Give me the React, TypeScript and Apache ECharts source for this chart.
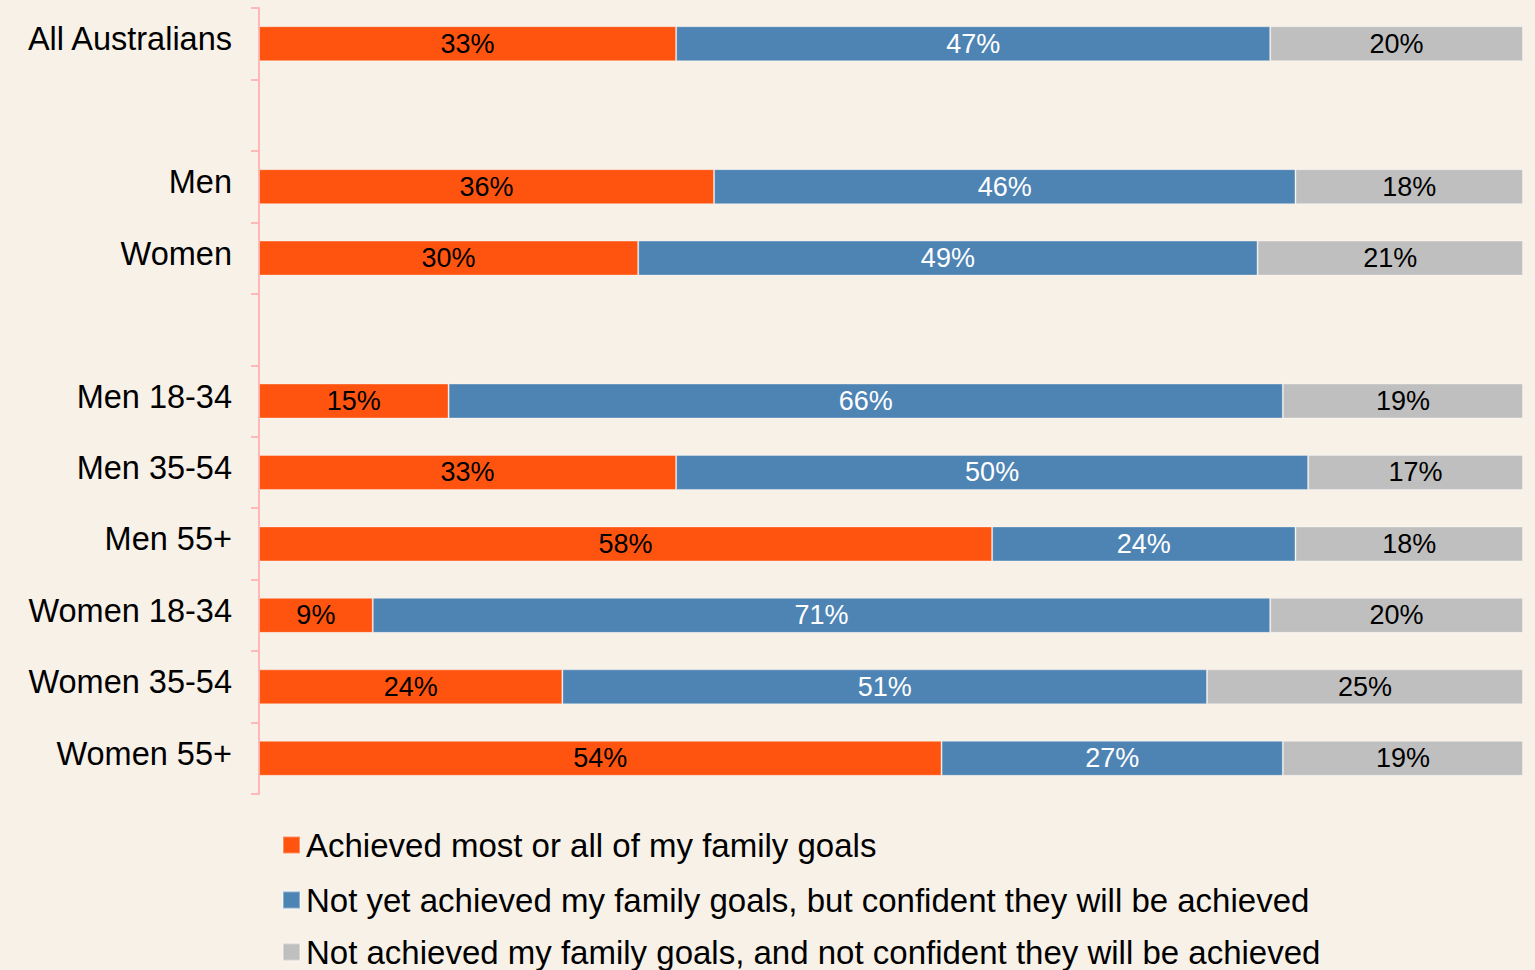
import React, { useEffect, useRef } from "react";
import * as echarts from "echarts";

const categories = [
  "All Australians",
  " ",
  "Men",
  "Women",
  "  ",
  "Men 18-34",
  "Men 35-54",
  "Men 55+",
  "Women 18-34",
  "Women 35-54",
  "Women 55+",
];

const achieved = [33, null, 36, 30, null, 15, 33, 58, 9, 24, 54];
const notYetConfident = [47, null, 46, 49, null, 66, 50, 24, 71, 51, 27];
const notConfident = [20, null, 18, 21, null, 19, 17, 18, 20, 25, 19];

const seriesNames = [
  "Achieved most or all of my family goals",
  "Not yet achieved my family goals, but confident they will be achieved",
  "Not achieved my family goals, and not confident they will be achieved",
];

const colors = ["#FF5410", "#4E84B4", "#BFBFBF"];
const labelColors = ["#000000", "#FFFFFF", "#000000"];
const legendTops = [818, 873, 925];

const FONT = "'Liberation Sans', Arial, sans-serif";

export default function App() {
  const ref = useRef<HTMLDivElement>(null);
  useEffect(() => {
    if (!ref.current) return;
    const chart = echarts.init(ref.current, null, { renderer: "svg" });
    const dataSets = [achieved, notYetConfident, notConfident];
    chart.setOption({
      animation: false,
      backgroundColor: "#F8F1E8",
      textStyle: { fontFamily: FONT },
      grid: { left: 259, right: 12, top: 8, bottom: 176 },
      xAxis: {
        type: "value",
        min: 0,
        max: 100,
        show: false,
      },
      yAxis: {
        type: "category",
        inverse: true,
        data: categories,
        axisLine: { show: true, lineStyle: { color: "#FFB8B8", width: 2 } },
        axisTick: { show: true, length: 8, lineStyle: { color: "#FFB8B8", width: 2 } },
        axisLabel: {
          color: "#000",
          fontSize: 32.5,
          fontFamily: FONT,
          margin: 27,
          verticalAlign: "bottom",
          padding: [0, 0, -12, 0],
        },
      },
      legend: seriesNames.map((n, i) => ({
        orient: "vertical",
        left: 277,
        top: legendTops[i],
        itemWidth: 17,
        itemHeight: 17,
        icon: "rect",
        textStyle: { fontSize: 33, color: "#000", fontFamily: FONT, lineHeight: 36, padding: [0, 0, 8, 1] },
        data: [n],
      })),
      series: dataSets.map((d, i) => ({
        name: seriesNames[i],
        type: "bar",
        stack: "total",
        barWidth: 35,
        data: d,
        itemStyle: { color: colors[i], borderColor: "rgba(255,255,255,0.35)", borderWidth: 1 },
        label: {
          show: true,
          position: "inside",
          formatter: (p: any) => (p.value == null ? "" : p.value + "%"),
          color: labelColors[i],
          fontSize: 27,
          fontFamily: FONT,
        },
      })),
    });
    return () => chart.dispose();
  }, []);
  return (
    <div
      ref={ref}
      style={{ width: 1535, height: 970, position: "fixed", left: 0, top: 0 }}
    />
  );
}
